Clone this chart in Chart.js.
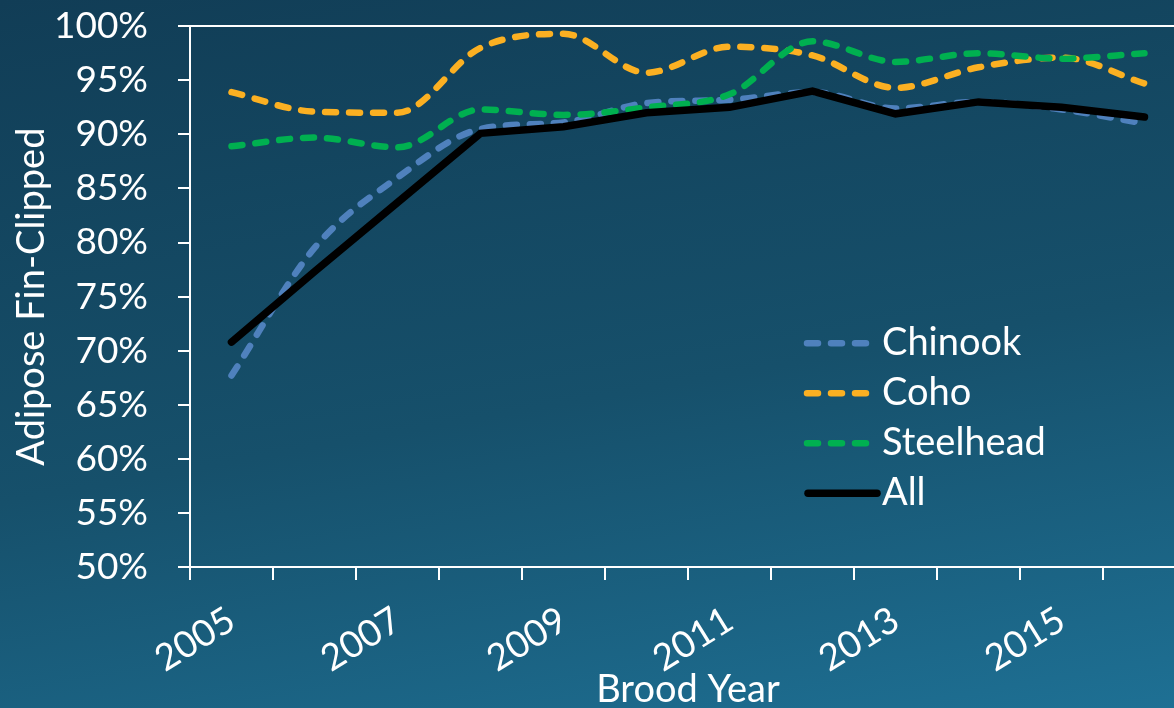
<!DOCTYPE html>
<html>
<head>
<meta charset="utf-8">
<script src="https://cdn.jsdelivr.net/npm/chart.js@4.4.0/dist/chart.umd.min.js"></script>
<style>
html, body { margin: 0; padding: 0; overflow: hidden; width: 1174px; height: 708px; }
body { background: linear-gradient(170deg, #113d56 0%, #16506b 55%, #1e7094 100%); }
#wrap { position: absolute; left: 0; top: -26px; width: 1200px; height: 746px; }
</style>
</head>
<body>
<div id="wrap"><canvas id="c" width="1200" height="746"></canvas></div>
<script>
// ---- data ----
const years = ['2005','2006','2007','2008','2009','2010','2011','2012','2013','2014','2015','2016'];
const chinook   = [67.7, 79.5, 86.0, 90.5, 91.1, 92.9, 93.2, 93.9, 92.4, 93.0, 92.3, 91.0];
const coho      = [93.9, 92.1, 92.0, 98.0, 99.3, 95.7, 98.1, 97.3, 94.3, 96.2, 97.1, 94.7];
const steelhead = [88.9, 89.7, 88.8, 92.3, 91.8, 92.5, 93.7, 98.6, 96.7, 97.5, 97.0, 97.5];
const allFish   = [70.8, 77.3, 83.7, 90.1, 90.7, 92.0, 92.5, 94.0, 91.9, 93.0, 92.5, 91.6];
const seriesNames = ['Chinook', 'Coho', 'Steelhead', 'All'];
const yTicks = [50, 55, 60, 65, 70, 75, 80, 85, 90, 95, 100];

const FONT = 'Lato, "Open Sans", sans-serif';
const WHITE = '#ffffff';

const legendPlugin = {
  id: 'insideLegend',
  afterDatasetsDraw(chart) {
    const { ctx, chartArea } = chart;
    const x0 = chartArea.left + 617;
    const y0 = chartArea.top + 317;
    ctx.save();
    chart.data.datasets.forEach((ds, i) => {
      const y = y0 + i * 50;
      ctx.beginPath();
      ctx.strokeStyle = ds.borderColor;
      ctx.lineWidth = ds.borderWidth;
      ctx.lineCap = 'round';
      ctx.setLineDash(ds.borderDash || []);
      if (ds.borderDash && ds.borderDash.length) {
        ctx.moveTo(x0, y); ctx.lineTo(x0 + 66, y);
      } else {
        ctx.moveTo(x0 + 1, y); ctx.lineTo(x0 + 70, y);
      }
      ctx.stroke();
      ctx.setLineDash([]);
      ctx.fillStyle = WHITE;
      ctx.font = '38px ' + FONT;
      ctx.textAlign = 'left';
      ctx.textBaseline = 'middle';
      ctx.fillText(ds.label, x0 + 75, y);
    });
    ctx.restore();
  }
};

const dashed = [11, 13];
new Chart(document.getElementById('c'), {
  type: 'line',
  data: {
    labels: years,
    datasets: [
      { label: seriesNames[0], data: chinook, borderColor: '#4f81bd', borderWidth: 6.5, borderDash: dashed, borderCapStyle: 'round', cubicInterpolationMode: 'monotone', pointRadius: 0, order: 4 },
      { label: seriesNames[1], data: coho, borderColor: '#fbb022', borderWidth: 6.5, borderDash: dashed, borderCapStyle: 'round', cubicInterpolationMode: 'monotone', pointRadius: 0, order: 3 },
      { label: seriesNames[2], data: steelhead, borderColor: '#00b050', borderWidth: 6.5, borderDash: dashed, borderCapStyle: 'round', cubicInterpolationMode: 'monotone', pointRadius: 0, order: 2 },
      { label: seriesNames[3], data: allFish, borderColor: '#000000', borderWidth: 7.5, borderCapStyle: 'round', borderJoinStyle: 'miter', tension: 0, pointRadius: 0, order: 1 }
    ]
  },
  options: {
    responsive: false,
    devicePixelRatio: 1,
    animation: false,
    layout: { padding: { top: 0, right: 14, left: 0, bottom: 0 } },
    plugins: { legend: { display: false }, tooltip: { enabled: false } },
    scales: {
      x: {
        type: 'category',
        offset: true,
        grid: { offset: true, drawOnChartArea: false, color: WHITE, tickColor: WHITE, tickLength: 13, lineWidth: 2 },
        border: { color: WHITE, width: 2 },
        ticks: {
          autoSkip: false, minRotation: 32, maxRotation: 32, color: WHITE, padding: 18,
          font: { family: FONT, size: 37 },
          callback: (v, i) => (i % 2 === 0 ? years[i] : '')
        },
        title: { display: true, text: 'Brood Year', color: WHITE, font: { family: FONT, size: 38 }, padding: { top: 0, bottom: 7 } },
        afterFit: (s) => { s.height = 153; }
      },
      y: {
        min: 50, max: 100,
        afterBuildTicks: (s) => { s.ticks = yTicks.map(v => ({ value: v })); },
        grid: {
          drawOnChartArea: true,
          color: (c) => (c.tick && c.tick.value === 100 ? WHITE : 'rgba(0,0,0,0)'),
          tickColor: WHITE, tickLength: 12, lineWidth: 2
        },
        border: { color: WHITE, width: 2 },
        ticks: { color: WHITE, padding: 30, font: { family: FONT, size: 37 }, callback: (v) => v + '%' },
        title: { display: true, text: 'Adipose Fin-Clipped', color: WHITE, font: { family: FONT, size: 38 }, padding: { top: 9, bottom: 0 } },
        afterFit: (s) => { s.width = 190; }
      }
    }
  },
  plugins: [legendPlugin]
});
</script>
</body>
</html>
